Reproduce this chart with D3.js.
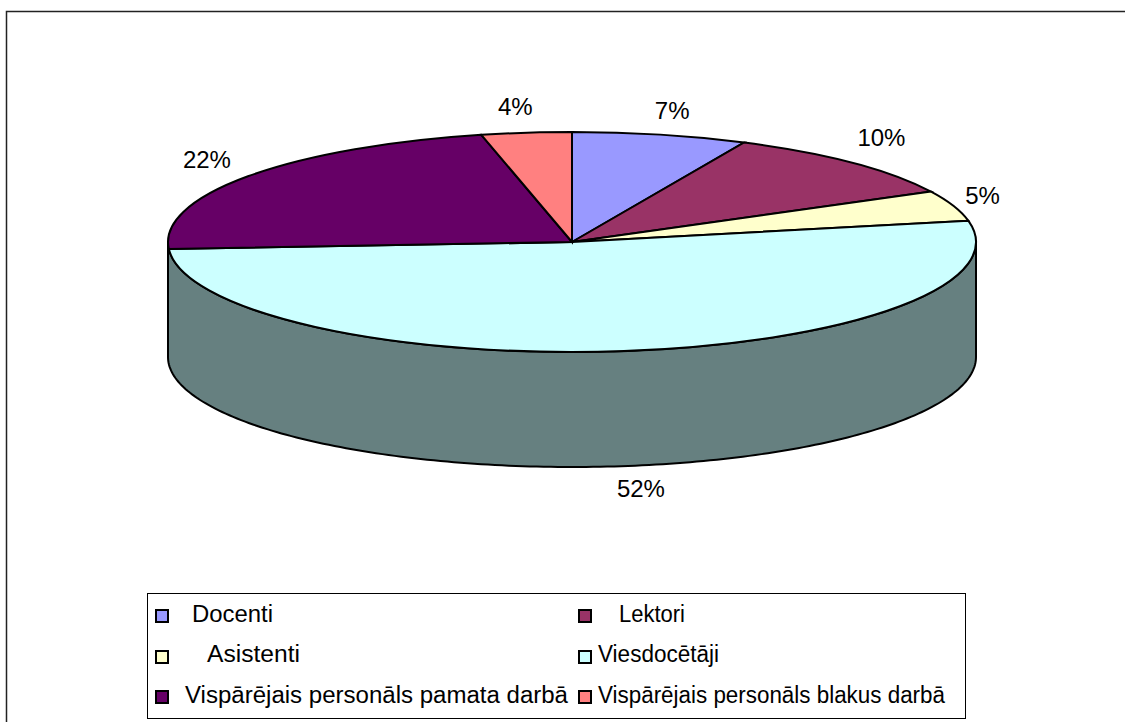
<!DOCTYPE html>
<html>
<head>
<meta charset="utf-8">
<style>
html, body { margin: 0; padding: 0; background: #fff; }
svg { display: block; }
text { font-family: "Liberation Sans", Arial, sans-serif; fill: #000; }
</style>
<script src="https://cdn.jsdelivr.net/npm/d3@7"></script>
</head>
<body>
<svg width="1125" height="722"></svg>
<script>
// data (clockwise from the top)
var categories = ["Docenti", "Lektori", "Asistenti", "Viesdocētāji",
	"Vispārējais personāls pamata darbā", "Vispārējais personāls blakus darbā"];
var shares = [7, 10.4, 4.5, 52, 22.4, 3.6];
var percentLabels = ["7%", "10%", "5%", "52%", "22%", "4%"];
var colors = ["#9999ff", "#993366", "#ffffcc", "#ccffff", "#660066", "#ff8080"];
var wallColor = "#668080";

// layout
var cx = 572, cy = 242, rx = 404, ry = 110, depth = 115;
var labelOffsets = [[12, -16], [29, -17], [29, -2], [17, 31], [-41, -8], [-11, -18]];

var svg = d3.select("svg");

// frame, only the top and left edges show in the picture
svg.append("path")
	.attr("d", "M6.5,722V11.5H1125")
	.attr("fill", "none")
	.attr("stroke", "#222")
	.attr("stroke-width", 1.5);

var pie = d3.pie().sort(null).value(function(d) { return d; });
var slices = pie(shares);

function ex(a) { return cx + rx * Math.sin(a); }
function ey(a) { return cy - ry * Math.cos(a); }

// side wall, the front half of the ellipse pushed down by depth
var wallAngles = d3.range(0, 181).map(function(i) { return Math.PI / 2 + i * Math.PI / 180; });
var wall = d3.area()
	.x(function(a) { return ex(a); })
	.y0(function(a) { return ey(a); })
	.y1(function(a) { return ey(a) + depth; });

svg.append("path")
	.attr("d", wall(wallAngles))
	.attr("fill", wallColor)
	.attr("stroke", "#000")
	.attr("stroke-width", 2);

// top face: a circular pie squashed into an ellipse
var arc = d3.arc().innerRadius(0).outerRadius(rx);
svg.append("g")
	.attr("transform", "translate(" + cx + "," + cy + ") scale(1," + (ry / rx) + ")")
	.selectAll("path")
	.data(slices)
	.enter()
	.append("path")
	.attr("d", arc)
	.attr("fill", function(d, i) { return colors[i]; })
	.attr("stroke", "#000")
	.attr("stroke-width", 2)
	.attr("vector-effect", "non-scaling-stroke");

// percent labels
svg.selectAll("text.pct")
	.data(slices)
	.enter()
	.append("text")
	.attr("class", "pct")
	.attr("x", function(d, i) {
		return ex((d.startAngle + d.endAngle) / 2) + labelOffsets[i][0];
	})
	.attr("y", function(d, i) {
		var a = (d.startAngle + d.endAngle) / 2;
		return ey(a) + (Math.cos(a) < -0.5 ? depth : 0) + labelOffsets[i][1];
	})
	.attr("text-anchor", "middle")
	.style("font-size", "24px")
	.text(function(d, i) { return percentLabels[i]; });

// legend
svg.append("rect")
	.attr("x", 147.5)
	.attr("y", 593.5)
	.attr("width", 818)
	.attr("height", 125)
	.attr("fill", "#fff")
	.attr("stroke", "#000")
	.attr("stroke-width", 1);

var legendSwatchX = [156, 579];
var legendSwatchY = [610, 651, 691];
var legendTextX = [[192, 619], [207, 598], [185, 598]];
var legendRowY = [622, 662, 703];
// the picture stretches the left column and pinches the right one
var legendTextWidth = [81, 66, 93, 121, 383, 347];

categories.forEach(function(name, i) {
	var col = i % 2, row = Math.floor(i / 2);
	svg.append("rect")
		.attr("x", legendSwatchX[col])
		.attr("y", legendSwatchY[row])
		.attr("width", 12)
		.attr("height", 12)
		.attr("fill", colors[i])
		.attr("stroke", "#000")
		.attr("stroke-width", 2);
	svg.append("text")
		.attr("x", legendTextX[row][col])
		.attr("y", legendRowY[row])
		.attr("textLength", legendTextWidth[i])
		.attr("lengthAdjust", "spacingAndGlyphs")
		.style("font-size", "23px")
		.text(name);
});
</script>
</body>
</html>
